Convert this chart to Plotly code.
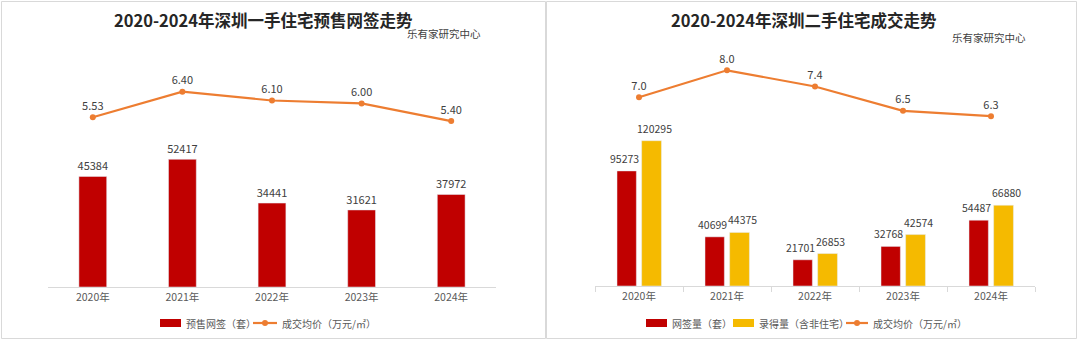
import plotly.graph_objects as go

# ---- data ----
years = ["2020年", "2021年", "2022年", "2023年", "2024年"]

# left panel: new-home presale contracts and average price
presale_units = [45384, 52417, 34441, 31621, 37972]
new_price = [5.53, 6.40, 6.10, 6.00, 5.40]
new_price_labels = ["5.53", "6.40", "6.10", "6.00", "5.40"]

# right panel: second-hand contracts, recorded volume and average price
resale_units = [95273, 40699, 21701, 32768, 54487]
recorded_units = [120295, 44375, 26853, 42574, 66880]
resale_price = [7.0, 8.0, 7.4, 6.5, 6.3]
resale_price_labels = ["7.0", "8.0", "7.4", "6.5", "6.3"]

title_left = "2020-2024年深圳一手住宅预售网签走势"
title_right = "2020-2024年深圳二手住宅成交走势"
source_text = "乐有家研究中心"

RED = "#C00000"
YELLOW = "#F5BA00"
ORANGE = "#ED7D31"
GRID = "#D9D9D9"
LABEL = "#404040"
TICK = "#595959"
FONT = "Noto Sans CJK SC"

W, H = 1080, 340


def px(x):
    return x / W


def py(y):
    return 1 - y / H


fig = go.Figure()

bar_text_font = dict(size=11, color=LABEL, family=FONT)

# right-panel bar geometry (category units) and the pixel width of one category
R_CAT_PX = 88.0
RED_OFF, RED_W = -0.25, 0.22
YEL_OFF, YEL_W = 0.03, 0.225

# left panel
fig.add_trace(go.Bar(
    x=years, y=presale_units, xaxis="x", yaxis="y",
    marker_color=RED, width=0.31, offset=-0.155,
    text=[str(v) for v in presale_units], textposition="outside",
    textfont=bar_text_font, constraintext="none",
    cliponaxis=False, showlegend=False,
))
fig.add_trace(go.Scatter(
    x=years, y=new_price, xaxis="x", yaxis="y2",
    mode="lines+markers+text",
    line=dict(color=ORANGE, width=2.2), marker=dict(color=ORANGE, size=6),
    text=new_price_labels, textposition="top center",
    textfont=dict(size=11, color=LABEL, family=FONT),
    cliponaxis=False, showlegend=False,
))

# right panel
fig.add_trace(go.Bar(
    x=years, y=resale_units, xaxis="x2", yaxis="y3",
    marker_color=RED, width=RED_W, offset=RED_OFF,
    showlegend=False,
))
fig.add_trace(go.Bar(
    x=years, y=recorded_units, xaxis="x2", yaxis="y3",
    marker_color=YELLOW, width=YEL_W, offset=YEL_OFF,
    showlegend=False,
))
fig.add_trace(go.Scatter(
    x=years, y=resale_price, xaxis="x2", yaxis="y4",
    mode="lines+markers+text",
    line=dict(color=ORANGE, width=2.2), marker=dict(color=ORANGE, size=6),
    text=resale_price_labels, textposition="top center",
    textfont=dict(size=11, color=LABEL, family=FONT),
    cliponaxis=False, showlegend=False,
))

hidden_y = dict(visible=False, showgrid=False, zeroline=False, fixedrange=True)

fig.update_layout(
    width=W, height=H,
    margin=dict(l=0, r=0, t=0, b=0),
    paper_bgcolor="white", plot_bgcolor="white",
    font=dict(family=FONT, color=TICK),
    barmode="overlay",
    xaxis=dict(
        domain=[px(48), px(496)], anchor="y",
        showline=True, linecolor=GRID, linewidth=1,
        showgrid=False, ticks="", tickfont=dict(size=10.5, color=TICK),
    ),
    yaxis=dict(domain=[py(287), py(55)], range=[0, 95230], **hidden_y),
    yaxis2=dict(overlaying="y", range=[-0.243, 7.648], **hidden_y),
    xaxis2=dict(
        domain=[px(595), px(1035)], anchor="y3",
        showline=True, linecolor=GRID, linewidth=1,
        showgrid=False, ticks="outside", tickson="boundaries",
        ticklen=5, tickcolor=GRID, tickfont=dict(size=10.5, color=TICK),
    ),
    yaxis3=dict(domain=[py(286), py(55)], range=[0, 191240], anchor="x2", **hidden_y),
    yaxis4=dict(overlaying="y3", range=[0.011, 8.567], anchor="x2", **hidden_y),
)

# panel frames
shapes = [
    dict(type="rect", xref="paper", yref="paper",
         x0=px(1.5), x1=px(545.5), y0=py(338.5), y1=py(1.5),
         line=dict(color=GRID, width=1)),
    dict(type="rect", xref="paper", yref="paper",
         x0=px(546.5), x1=px(1076.5), y0=py(338.5), y1=py(1.5),
         line=dict(color=GRID, width=1)),
]

annotations = [
    dict(text=f"<b>{title_left}</b>", x=px(263), y=py(20), xref="paper", yref="paper",
         showarrow=False, xanchor="center", yanchor="middle",
         font=dict(size=16.5, color="#262626", family=FONT)),
    dict(text=f"<b>{title_right}</b>", x=px(804), y=py(20), xref="paper", yref="paper",
         showarrow=False, xanchor="center", yanchor="middle",
         font=dict(size=16.5, color="#262626", family=FONT)),
    dict(text=source_text, x=px(405), y=py(34), xref="paper", yref="paper",
         showarrow=False, xanchor="left", yanchor="middle",
         font=dict(size=10.5, color="#404040", family=FONT)),
    dict(text=source_text, x=px(950), y=py(37), xref="paper", yref="paper",
         showarrow=False, xanchor="left", yanchor="middle",
         font=dict(size=10.5, color="#404040", family=FONT)),
]

# value labels for the paired bars, nudged apart so neighbours don't collide
red_center_px = (RED_OFF + RED_W / 2) * R_CAT_PX
yel_center_px = (YEL_OFF + YEL_W / 2) * R_CAT_PX
for yr, v in zip(years, resale_units):
    annotations.append(dict(text=str(v), x=yr, y=v, xref="x2", yref="y3",
                            showarrow=False, xanchor="center", yanchor="bottom",
                            xshift=red_center_px - 2.5, yshift=3,
                            font=dict(size=10.5, color=LABEL, family=FONT)))
for yr, v in zip(years, recorded_units):
    annotations.append(dict(text=str(v), x=yr, y=v, xref="x2", yref="y3",
                            showarrow=False, xanchor="center", yanchor="bottom",
                            xshift=yel_center_px + 3, yshift=3,
                            font=dict(size=10.5, color=LABEL, family=FONT)))

# hand-drawn legends below each panel
LEG_Y = 323


def legend_box(x0, x1, color, label):
    shapes.append(dict(type="rect", xref="paper", yref="paper",
                       x0=px(x0), x1=px(x1), y0=py(LEG_Y + 4), y1=py(LEG_Y - 4),
                       fillcolor=color, line=dict(width=0)))
    annotations.append(dict(text=label, x=px(x1 + 3), y=py(LEG_Y), xref="paper", yref="paper",
                            showarrow=False, xanchor="left", yanchor="middle",
                            font=dict(size=10, color=TICK, family=FONT)))


def legend_line(x0, x1, color, label):
    shapes.append(dict(type="line", xref="paper", yref="paper",
                       x0=px(x0), x1=px(x1), y0=py(LEG_Y), y1=py(LEG_Y),
                       line=dict(color=color, width=2.2)))
    cx = (x0 + x1) / 2
    shapes.append(dict(type="circle", xref="paper", yref="paper",
                       x0=px(cx - 3), x1=px(cx + 3), y0=py(LEG_Y + 3), y1=py(LEG_Y - 3),
                       fillcolor=color, line=dict(width=0)))
    annotations.append(dict(text=label, x=px(x1 + 3), y=py(LEG_Y), xref="paper", yref="paper",
                            showarrow=False, xanchor="left", yanchor="middle",
                            font=dict(size=10, color=TICK, family=FONT)))


legend_box(160, 181, RED, "预售网签（套）")
legend_line(253, 277, ORANGE, "成交均价（万元/㎡）")

legend_box(646, 667, RED, "网签量（套）")
legend_box(733, 754, YELLOW, "录得量（含非住宅）")
legend_line(846, 868, ORANGE, "成交均价（万元/㎡）")

fig.update_layout(shapes=shapes, annotations=annotations)

fig.write_html("out.html")
